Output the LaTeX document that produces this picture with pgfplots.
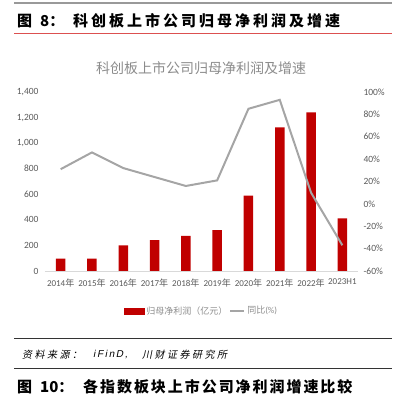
\documentclass[border=0pt]{standalone}
\usepackage{fontspec}
\usepackage{pgfplots}
\pgfplotsset{compat=1.18}
\setmainfont{Carlito}
\newfontfamily\cjk{Noto Sans CJK SC}
\newfontfamily\cjkh[LetterSpace=20]{Noto Sans CJK SC}
\newfontfamily\cjkhb[LetterSpace=13]{Noto Sans CJK SC}
\newfontfamily\cjkit[FakeSlant=0.2]{Noto Sans CJK SC}
\newfontfamily\cjkits[FakeSlant=0.2,LetterSpace=25]{Noto Sans CJK SC}
\newfontfamily\latit[FakeSlant=0.2]{Liberation Sans}
\definecolor{barred}{HTML}{C00000}
\definecolor{linegray}{HTML}{A5A5A5}
\definecolor{labgray}{HTML}{595959}
\definecolor{titgray}{HTML}{8C8C8C}
\definecolor{axgray}{HTML}{D9D9D9}
\begin{document}
\begin{tikzpicture}[x=1pt,y=1pt]
\path[use as bounding box] (0,0) rectangle (392,394);
% header rules
\draw[line width=2pt, color=gray!80] (14,391) -- (392,391);
\draw[line width=0.8pt, color={rgb,255:red,220;green,80;blue,80}] (14,360.5) -- (392,360.5);
\node[anchor=west, inner sep=0pt, font=\fontsize{15}{15}\cjk\bfseries] at (17,373) {图};
\node[anchor=west, inner sep=0pt, font=\fontsize{15}{15}\cjk\bfseries] at (40,373) {8：};
\node[anchor=west, inner sep=0pt, font=\fontsize{15}{15}\cjkh\bfseries] at (73,373) {科创板上市公司归母净利润及增速};
% chart title
\node[inner sep=0pt, text=titgray, font=\fontsize{14}{14}\cjk] at (201,326) {科创板上市公司归母净利润及增速};
% bars axis
\begin{axis}[
  at={(45pt,123pt)}, anchor=south west, scale only axis,
  width=313pt, height=179pt,
  xmin=-0.5, xmax=9.5, ymin=0, ymax=1400,
  axis x line*=bottom, axis y line*=left,
  axis line style={-},
  x axis line style={draw=axgray, line width=0.8pt},
  y axis line style={draw=none},
  major tick length=0pt,
  xtick={0,...,9},
  xticklabels={2014{\cjk 年},2015{\cjk 年},2016{\cjk 年},2017{\cjk 年},2018{\cjk 年},2019{\cjk 年},2020{\cjk 年},2021{\cjk 年},2022{\cjk 年},2023H1},
  ytick={0,200,...,1400},
  yticklabels={0,200,400,600,800,{1,000},{1,200},{1,400}},
  tick label style={text=labgray, font=\fontsize{9.5}{10}\selectfont},
  xticklabel style={font=\fontsize{9}{10}\selectfont, yshift=-4pt},
  yticklabel style={xshift=-3pt},
  /pgf/number format/assume math mode=true,
]
\addplot[ybar, bar width=9.5pt, fill=barred, draw=none] coordinates {
(0,97) (1,97) (2,201) (3,242) (4,274) (5,320) (6,589) (7,1124) (8,1241) (9,412)};
\end{axis}
% line axis
\begin{axis}[
  at={(45pt,123pt)}, anchor=south west, scale only axis,
  width=313pt, height=179pt,
  xmin=-0.5, xmax=9.5, ymin=-60, ymax=100,
  axis x line=none, axis y line*=right,
  axis line style={-},
  y axis line style={draw=none},
  major tick length=0pt,
  ytick={-60,-40,...,100},
  yticklabels={-60\%,-40\%,-20\%,0\%,20\%,40\%,60\%,80\%,100\%},
  tick label style={text=labgray, font=\fontsize{9.5}{10}\selectfont},
  yticklabel style={xshift=2pt},
  /pgf/number format/assume math mode=true,
  legend style={at={(0.5,-0.223)}, anchor=center, draw=none, fill=none,
    legend columns=2, text=titgray, font=\fontsize{9}{10}\cjk,
    /tikz/every even column/.append style={column sep=0pt},
    inner sep=0pt},
  legend cell align=left,
]
\addlegendimage{legend image code/.code={\fill[barred] (0pt,-3pt) rectangle (20pt,3pt);}}
\addlegendentry{归母净利润（亿元）}
\addlegendimage{legend image code/.code={\draw[linegray, line width=2pt] (-2pt,0pt) -- (12pt,0pt);}}
\addlegendentry{同比{\rmfamily(\%)}}
\addplot[color=linegray, line width=2pt] coordinates {
(0,31) (1,46) (2,32) (3,24) (4,16) (5,21) (6,85) (7,93) (8,10) (9,-37)};
\end{axis}
% source rules
\draw[line width=0.8pt, color=black!80] (14,56) -- (392,56);
\draw[line width=0.8pt, color=black!80] (14,26) -- (392,26);
\node[anchor=west, inner sep=0pt, font=\fontsize{10}{10}\cjkits] at (22,39) {资料来源：};
\node[anchor=west, inner sep=0pt, font=\fontsize{10}{10}\latit] at (93,39) {i\,F\,i\,n\,D\,,};
\node[anchor=west, inner sep=0pt, font=\fontsize{10}{10}\cjkits] at (142,39) {川财证券研究所};
\node[anchor=west, inner sep=0pt, font=\fontsize{15}{15}\cjk\bfseries] at (17,7) {图};
\node[anchor=west, inner sep=0pt, font=\fontsize{15}{15}\cjk\bfseries] at (40,7) {10：};
\node[anchor=west, inner sep=0pt, font=\fontsize{15}{15}\cjkhb\bfseries] at (83,7) {各指数板块上市公司净利润增速比较};
\end{tikzpicture}
\end{document}
